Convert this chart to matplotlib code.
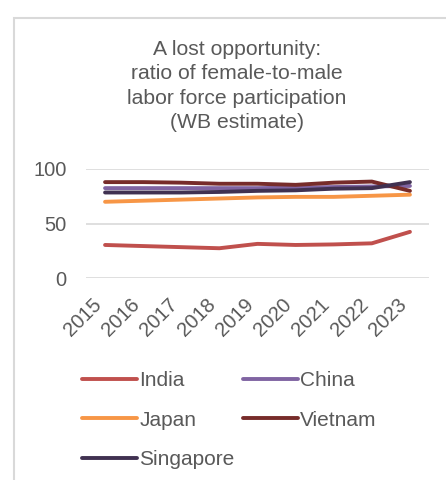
import numpy as np
import matplotlib
matplotlib.use("Agg")
import matplotlib.pyplot as plt
from matplotlib.patches import Rectangle

years = ["2015", "2016", "2017", "2018", "2019", "2020", "2021", "2022", "2023"]

india = [30.5, 29.5, 28.5, 27.5, 31.5, 30.5, 31, 32, 42.5]
china = [82.5, 82.5, 82.5, 82.5, 82.5, 83, 83.5, 84, 84.5]
japan = [70, 71, 72, 73, 74, 74.5, 74.5, 75.5, 76.5]
vietnam = [88, 88, 87.5, 86.5, 86.5, 85.5, 87.5, 88.5, 80]
singapore = [78.5, 78.5, 78.5, 79, 80, 80.5, 82, 82.5, 88]

series = [
    ("India", india, "#c0504d"),
    ("China", china, "#8064a2"),
    ("Japan", japan, "#f79646"),
    ("Vietnam", vietnam, "#772c2a"),
    ("Singapore", singapore, "#403151"),
]

plt.rcParams["font.family"] = ["Liberation Sans", "DejaVu Sans"]
text_color = "#595959"

fig = plt.figure(figsize=(4.46, 4.8), dpi=100)
fig.patch.set_facecolor("white")

# chart border (Excel chart area frame, cut off at right/bottom)
fig.patches.append(Rectangle((14 / 446, -0.1), 1.2, 1 - 18 / 480 + 0.1,
                             transform=fig.transFigure, fill=False,
                             edgecolor="#d9d9d9", linewidth=1.5))

ax = fig.add_axes([86 / 446, 1 - 278.3 / 480, (429 - 86) / 446, (278.3 - 169) / 480])

x = np.arange(len(years))
lines = {}
for name, vals, color in series:
    (ln,) = ax.plot(x, vals, color=color, linewidth=2.8, label=name,
                    solid_capstyle="round")
    lines[name] = ln

ax.set_xlim(-0.5, len(years) - 0.5)
ax.set_ylim(0, 100)
ax.set_yticks([0, 50, 100])
ax.set_xticks(x)
ax.set_xticklabels(years, rotation=45, ha="right", va="top")
ax.yaxis.grid(True, color="#d9d9d9", linewidth=1.2)
ax.set_axisbelow(True)
for s in ax.spines.values():
    s.set_visible(False)
ax.tick_params(axis="both", length=0, colors=text_color, labelsize=14.5)
ax.tick_params(axis="y", pad=14)
ax.tick_params(axis="x", pad=12)

fig.text(237 / 446, 1 - 40 / 480,
         "A lost opportunity:\nratio of female-to-male\nlabor force participation\n(WB estimate)",
         ha="center", va="top", fontsize=15.2, color=text_color, linespacing=1.36)

order = ["India", "Japan", "Singapore", "China", "Vietnam"]
leg = fig.legend([lines[n] for n in order], order, loc="upper left",
                 bbox_to_anchor=(81.7 / 446, 1 - 371 / 480), ncol=2,
                 frameon=False, fontsize=15, handlelength=2.64,
                 handletextpad=0.12, columnspacing=0.4, labelspacing=0.99,
                 borderpad=0, borderaxespad=0)
for t in leg.get_texts():
    t.set_color(text_color)

fig.savefig("out.png", dpi=100)
